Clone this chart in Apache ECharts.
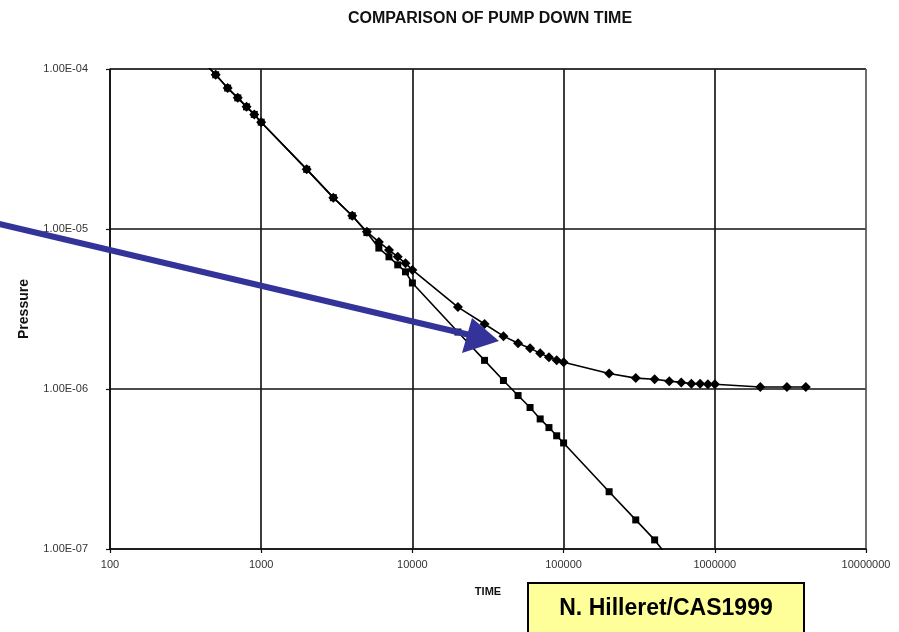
<!DOCTYPE html>
<html>
<head>
<meta charset="utf-8">
<script src="https://cdn.jsdelivr.net/npm/echarts@6/dist/echarts.min.js"></script>
<style>
html,body{margin:0;padding:0;background:#fff;}
#chart{width:899px;height:632px;}
</style>
</head>
<body>
<div id="chart"></div>
<script>
const titleText = 'COMPARISON OF PUMP DOWN TIME';
const xAxisName = 'TIME';
const yAxisName = 'Pressure';
const creditText = 'N. Hilleret/CAS1999';

const xTickLabels = ['100', '1000', '10000', '100000', '1000000', '10000000'];
const yTickLabels = ['1.00E-07', '1.00E-06', '1.00E-05', '1.00E-04'];

// Series A (diamonds) - levels off near 1e-6
const timesA = [400, 500, 600, 700, 800, 900, 1000, 2000, 3000, 4000, 5000, 6000, 7000, 8000, 9000, 10000,
  20000, 30000, 40000, 50000, 60000, 70000, 80000, 90000, 100000,
  200000, 300000, 400000, 500000, 600000, 700000, 800000, 900000, 1000000,
  2000000, 3000000, 4000000];
const pressureA = [1.15e-4, 9.2e-5, 7.6e-5, 6.6e-5, 5.8e-5, 5.2e-5, 4.65e-5, 2.36e-5, 1.57e-5, 1.21e-5,
  9.6e-6, 8.3e-6, 7.4e-6, 6.7e-6, 6.1e-6, 5.55e-6,
  3.25e-6, 2.55e-6, 2.14e-6, 1.93e-6, 1.80e-6, 1.67e-6, 1.58e-6, 1.51e-6, 1.47e-6,
  1.25e-6, 1.17e-6, 1.15e-6, 1.12e-6, 1.10e-6, 1.08e-6, 1.08e-6, 1.07e-6, 1.07e-6,
  1.03e-6, 1.03e-6, 1.03e-6];

// Series B (squares) - keeps falling
const timesB = [400, 500, 600, 700, 800, 900, 1000, 2000, 3000, 4000, 5000, 6000, 7000, 8000, 9000, 10000,
  20000, 30000, 40000, 50000, 60000, 70000, 80000, 90000, 100000,
  200000, 300000, 400000, 500000];
const pressureB = [1.15e-4, 9.2e-5, 7.6e-5, 6.6e-5, 5.8e-5, 5.2e-5, 4.65e-5, 2.36e-5, 1.57e-5, 1.21e-5,
  9.5e-6, 7.6e-6, 6.7e-6, 5.97e-6, 5.4e-6, 4.6e-6,
  2.27e-6, 1.51e-6, 1.13e-6, 9.1e-7, 7.66e-7, 6.5e-7, 5.74e-7, 5.1e-7, 4.6e-7,
  2.28e-7, 1.52e-7, 1.14e-7, 8.7e-8];

const pairs = (xs, ys) => xs.map((x, i) => [x, ys[i]]);

const chart = echarts.init(document.getElementById('chart'), null, {renderer: 'canvas'});
const FONT = 'Liberation Sans, Arial, sans-serif';

chart.setOption({
  animation: false,
  backgroundColor: '#ffffff',
  title: {
    text: titleText,
    left: 485,
    top: 6,
    textAlign: 'center',
    textStyle: {fontFamily: FONT, fontSize: 16, fontWeight: 'bold', color: '#111'}
  },
  grid: {left: 110, top: 69, right: 33, bottom: 83, containLabel: false},
  xAxis: {
    type: 'log',
    logBase: 10,
    min: 100,
    max: 10000000,
    name: xAxisName,
    nameLocation: 'middle',
    nameGap: 37,
    nameTextStyle: {fontFamily: FONT, fontSize: 11, fontWeight: 'bold', color: '#111'},
    axisLine: {show: true, lineStyle: {color: '#111', width: 1.5}},
    axisTick: {show: true, length: 4, lineStyle: {color: '#111', width: 1.2}},
    minorTick: {show: false},
    axisLabel: {
      fontFamily: FONT, fontSize: 11, color: '#333', margin: 10,
      formatter: v => xTickLabels[Math.round(Math.log10(v)) - 2]
    },
    splitLine: {show: true, lineStyle: {color: ['#111', '#1a1a1a', '#1a1a1a', '#1a1a1a', '#1a1a1a', '#555'], width: 1.7}}
  },
  yAxis: {
    type: 'log',
    logBase: 10,
    min: 1e-7,
    max: 1e-4,
    name: yAxisName,
    nameLocation: 'middle',
    nameGap: 79,
    nameTextStyle: {fontFamily: FONT, fontSize: 14, fontWeight: 'bold', color: '#111'},
    axisLine: {show: true, lineStyle: {color: '#111', width: 1.5}},
    axisTick: {show: true, length: 4, lineStyle: {color: '#111', width: 1.2}},
    minorTick: {show: false},
    axisLabel: {
      fontFamily: FONT, fontSize: 11, color: '#333', margin: 22,
      formatter: v => yTickLabels[Math.round(Math.log10(v)) + 7]
    },
    splitLine: {show: true, lineStyle: {color: ['#111', '#111', '#111', '#999'], width: 1.7}}
  },
  series: [
    {
      type: 'line',
      name: 'B',
      data: pairs(timesB, pressureB),
      symbol: 'rect',
      symbolSize: 7,
      showAllSymbol: true,
      clip: true,
      itemStyle: {color: '#000'},
      lineStyle: {color: '#000', width: 1.6},
      z: 3
    },
    {
      type: 'line',
      name: 'A',
      data: pairs(timesA, pressureA),
      symbol: 'diamond',
      symbolSize: 10,
      showAllSymbol: true,
      clip: true,
      itemStyle: {color: '#000'},
      lineStyle: {color: '#000', width: 1.6},
      z: 4
    }
  ],
  graphic: [
    {
      type: 'line',
      z: 100,
      shape: {x1: -5, y1: 223, x2: 470, y2: 335},
      style: {stroke: '#333399', lineWidth: 6}
    },
    {
      type: 'polygon',
      z: 100,
      shape: {points: [[472, 318], [499, 341], [462, 353]]},
      style: {fill: '#333399'}
    },
    {
      type: 'rect',
      z: 100,
      shape: {x: 528, y: 583, width: 276, height: 60},
      style: {fill: '#ffff99', stroke: '#000', lineWidth: 2}
    },
    {
      type: 'text',
      z: 101,
      x: 666,
      y: 609,
      style: {
        text: creditText,
        fontFamily: FONT,
        fontSize: 23,
        fontWeight: 'bold',
        fill: '#000',
        align: 'center',
        verticalAlign: 'middle'
      }
    }
  ]
});
</script>
</body>
</html>
